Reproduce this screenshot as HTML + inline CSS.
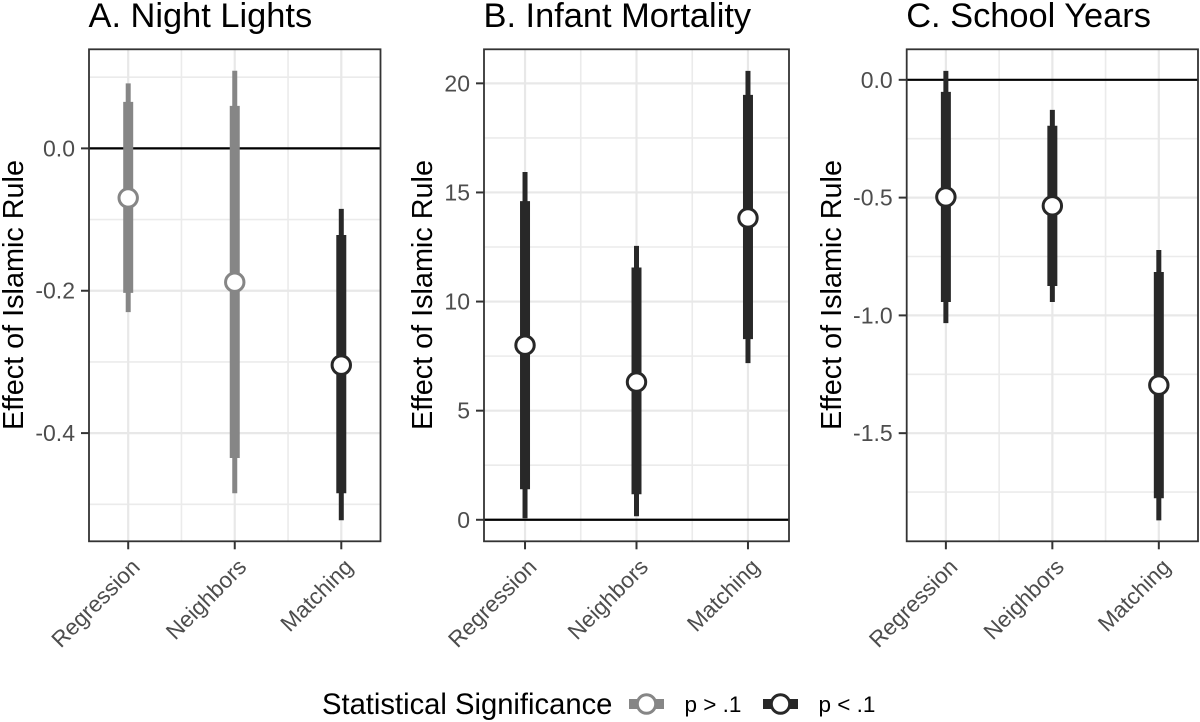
<!DOCTYPE html>
<html>
<head>
<meta charset="utf-8">
<title>Effect of Islamic Rule</title>
<style>
html,body{margin:0;padding:0;background:#fff;width:1200px;height:722px;overflow:hidden}
svg{display:block}
text{font-family:"Liberation Sans",Arial,sans-serif}
</style>
</head>
<body>
<svg id="chart" width="1200" height="722" viewBox="0 0 1200 722" xmlns="http://www.w3.org/2000/svg"></svg>
<script>
const categories = ['Regression', 'Neighbors', 'Matching'];

const nightTicks = [0, -0.2, -0.4];
const nightMinor = [0.1, -0.1, -0.3, -0.5];
const nightTickLabels = ['0.0', '-0.2', '-0.4'];
const nightEstimate = [-0.0696, -0.188, -0.3045];
const nightLow90 = [-0.203, -0.435, -0.4845];
const nightHigh90 = [0.0654, 0.0598, -0.1217];
const nightLow95 = [-0.23, -0.4845, -0.5225];
const nightHigh95 = [0.0914, 0.109, -0.085];
const nightSignificant = [false, false, true];

const infantTicks = [20, 15, 10, 5, 0];
const infantMinor = [17.5, 12.5, 7.5, 2.5];
const infantTickLabels = ['20', '15', '10', '5', '0'];
const infantEstimate = [8.0, 6.31, 13.83];
const infantLow90 = [1.4, 1.17, 8.28];
const infantHigh90 = [14.6, 11.56, 19.47];
const infantLow95 = [0.07, 0.16, 7.18];
const infantHigh95 = [15.94, 12.55, 20.57];
const infantSignificant = [true, true, true];

const schoolTicks = [0, -0.5, -1, -1.5];
const schoolMinor = [-0.25, -0.75, -1.25, -1.75];
const schoolTickLabels = ['0.0', '-0.5', '-1.0', '-1.5'];
const schoolEstimate = [-0.497, -0.535, -1.296];
const schoolLow90 = [-0.943, -0.875, -1.776];
const schoolHigh90 = [-0.051, -0.195, -0.816];
const schoolLow95 = [-1.033, -0.943, -1.87];
const schoolHigh95 = [0.038, -0.1275, -0.7225];
const schoolSignificant = [true, true, true];

const legendLabels = ['p > .1', 'p < .1'];

const svg = document.getElementById('chart');
const NS = 'http://www.w3.org/2000/svg';
const GREY = '#868686';
const DARK = '#282828';

function make(tag, attrs, parent) {
  const el = document.createElementNS(NS, tag);
  for (const k in attrs) el.setAttribute(k, attrs[k]);
  (parent || svg).appendChild(el);
  return el;
}

function linearScale(d0, d1, r0, r1) {
  return v => r0 + (v - d0) * (r1 - r0) / (d1 - d0);
}

function drawPanel(p) {
  const top = 49.3, bottom = 541.3;
  const xs = linearScale(0.632, 3.368, p.left, p.right);
  const ys = linearScale(p.domain[0], p.domain[1], bottom, top);
  const g = make('g', {});
  
  

  const title = make('text', {x: p.left - 0.5, y: 27, 'font-size': 34.4, fill: '#000'}, g);
  title.textContent = p.title;
  
  

  p.minor.forEach(v => {
    const l = make('line', {x1: p.left, x2: p.right, y1: ys(v), y2: ys(v), stroke: '#ebebeb', 'stroke-width': 1.6}, g);
    
    
  });
  [1.5, 2.5].forEach(v => {
    const l = make('line', {x1: xs(v), x2: xs(v), y1: top, y2: bottom, stroke: '#ebebeb', 'stroke-width': 1.6}, g);
    
    
  });
  p.ticks.forEach(v => {
    const l = make('line', {x1: p.left, x2: p.right, y1: ys(v), y2: ys(v), stroke: '#e8e8e8', 'stroke-width': 2.2}, g);
    
    
  });
  categories.forEach((c, i) => {
    const l = make('line', {x1: xs(i + 1), x2: xs(i + 1), y1: top, y2: bottom, stroke: '#e8e8e8', 'stroke-width': 2.2}, g);
    
    
  });

  const zero = make('line', {x1: p.left, x2: p.right, y1: ys(0), y2: ys(0), stroke: '#000', 'stroke-width': 2.2}, g);
  
  

  categories.forEach((c, i) => {
    const x = xs(i + 1);
    const col = p.significant[i] ? DARK : GREY;
    const thin = make('line', {x1: x, x2: x, y1: ys(p.low95[i]), y2: ys(p.high95[i]), stroke: col, 'stroke-width': 5}, g);
    
    
    const thick = make('line', {x1: x, x2: x, y1: ys(p.low90[i]), y2: ys(p.high90[i]), stroke: col, 'stroke-width': 10}, g);
    
    
    const pt = make('circle', {cx: x, cy: ys(p.estimate[i]), r: 9.2, fill: '#fff', stroke: col, 'stroke-width': 3}, g);
    
    
  });

  const border = make('rect', {x: p.left, y: top, width: p.right - p.left, height: bottom - top, fill: 'none', stroke: '#333', 'stroke-width': 1.8}, g);
  
  

  p.ticks.forEach((v, i) => {
    const t = make('line', {x1: p.left - 8, x2: p.left, y1: ys(v), y2: ys(v), stroke: '#333', 'stroke-width': 2}, g);
    
    
    const lab = make('text', {x: p.left - 14, y: ys(v) + 8, 'font-size': 23, fill: '#4d4d4d', 'text-anchor': 'end'}, g);
    lab.textContent = p.tickLabels[i];
    
    
  });

  categories.forEach((c, i) => {
    const x = xs(i + 1);
    const t = make('line', {x1: x, x2: x, y1: bottom, y2: bottom + 8, stroke: '#333', 'stroke-width': 2}, g);
    
    
    const lab = make('text', {x: x + 13, y: bottom + 27, 'font-size': 22.5, fill: '#4d4d4d', 'text-anchor': 'end', transform: 'rotate(-45 ' + (x + 13) + ' ' + (bottom + 27) + ')'}, g);
    lab.textContent = c;
    
    
  });

  const ya = make('text', {x: p.ytitleX, y: 295, 'font-size': 28.8, fill: '#000', 'text-anchor': 'middle', transform: 'rotate(-90 ' + p.ytitleX + ' 295)'}, g);
  ya.textContent = 'Effect of Islamic Rule';
  
  
}

drawPanel({name: 'night-lights', title: 'A. Night Lights', left: 89, right: 380.5, ytitleX: 23,
  domain: [-0.552, 0.1392], ticks: nightTicks, minor: nightMinor, tickLabels: nightTickLabels,
  estimate: nightEstimate, low90: nightLow90, high90: nightHigh90, low95: nightLow95, high95: nightHigh95, significant: nightSignificant});
drawPanel({name: 'infant-mortality', title: 'B. Infant Mortality', left: 484, right: 789, ytitleX: 432,
  domain: [-0.986, 21.56], ticks: infantTicks, minor: infantMinor, tickLabels: infantTickLabels,
  estimate: infantEstimate, low90: infantLow90, high90: infantHigh90, low95: infantLow95, high95: infantHigh95, significant: infantSignificant});
drawPanel({name: 'school-years', title: 'C. School Years', left: 906.7, right: 1198, ytitleX: 841,
  domain: [-1.959, 0.1296], ticks: schoolTicks, minor: schoolMinor, tickLabels: schoolTickLabels,
  estimate: schoolEstimate, low90: schoolLow90, high90: schoolHigh90, low95: schoolLow95, high95: schoolHigh95, significant: schoolSignificant});

const legend = make('g', {});



const legendTitle = make('text', {x: 322, y: 714, 'font-size': 29.2, fill: '#000'}, legend);
legendTitle.textContent = 'Statistical Significance';



legendLabels.forEach((label, i) => {
  const cx = 646.5 + i * 134;
  const col = i === 0 ? GREY : DARK;
  const bar = make('line', {x1: cx - 17.5, x2: cx + 17.5, y1: 704, y2: 704, stroke: col, 'stroke-width': 10}, legend);
  
  
  const dot = make('circle', {cx: cx, cy: 704, r: 9.2, fill: '#fff', stroke: col, 'stroke-width': 3}, legend);
  
  
  const t = make('text', {x: cx + 38, y: 712, 'font-size': 22.5, fill: '#000'}, legend);
  t.textContent = label;
  
  
});
</script>
</body>
</html>
